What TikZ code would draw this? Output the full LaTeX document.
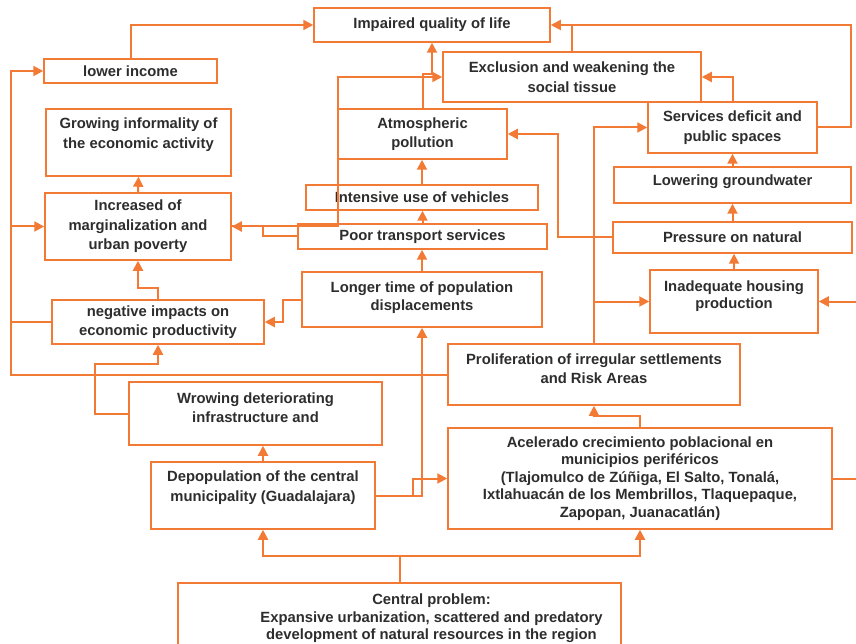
\documentclass[tikz,border=0pt]{standalone}
\usepackage{fontspec}
\setmainfont{Liberation Sans}
\usetikzlibrary{arrows.meta}
\definecolor{edge}{RGB}{242,122,52}
\definecolor{ink}{RGB}{45,45,45}
\newcommand{\lift}[1]{\rule[-#1pt]{0pt}{#1pt}}

\begin{document}
\begin{tikzpicture}[x=1pt, y=-1pt,
    box/.style={draw=edge, line width=1.5pt, align=center, inner sep=0pt, text=ink,
        font=\fontsize{14.8}{19.5}\selectfont\bfseries},
    tight/.style={font=\fontsize{14.8}{17.5}\selectfont\bfseries},
    link/.style={draw=edge, line width=2pt, -{Triangle[length=10pt, width=10pt]}},
    wire/.style={draw=edge, line width=2pt}]
    \useasboundingbox (0,0) rectangle (856,644);
    \clip (0,0) rectangle (856,644);

    % effects
    \node[box, minimum width=236pt, minimum height=34pt] (impaired) at (432,25) {Impaired quality of life};
    \node[box, minimum width=173pt, minimum height=24pt] (income) at (130.5,71) {lower income};
    \node[box, minimum width=185pt, minimum height=67pt] (informal) at (138.5,142.5) {Growing informality of\\the economic activity\lift{19}};
    \node[box, minimum width=258pt, minimum height=50pt] (exclusion) at (572,77) {Exclusion and weakening the\\social tissue};
    \node[box, minimum width=169pt, minimum height=50pt] (atmos) at (422.5,134) {Atmospheric\\pollution};
    \node[box, minimum width=169pt, minimum height=51pt] (services) at (732.5,127.5) {Services deficit and\\public spaces};
    \node[box, minimum width=237pt, minimum height=36pt] (lowering) at (732.5,185) {Lowering groundwater\lift{10}};
    \node[box, minimum width=232pt, minimum height=25pt] (vehicles) at (422,197.5) {Intensive use of vehicles};
    \node[box, minimum width=186pt, minimum height=67pt] (marginal) at (138,226.5) {Increased of\\marginalization and\\urban poverty};
    \node[box, minimum width=239pt, minimum height=31pt] (pressure) at (732.5,237.5) {Pressure on natural};
    \node[box, minimum width=249pt, minimum height=25pt] (transport) at (422.5,236.5) {Poor transport services};
    \node[box, tight, minimum width=240pt, minimum height=55pt] (longer) at (422,299.5) {Longer time of population\\displacements\lift{7}};
    \node[box, tight, minimum width=168pt, minimum height=63pt] (housing) at (734,301.5) {Inadequate housing\\production\lift{14}};
    \node[box, minimum width=212pt, minimum height=44pt] (negative) at (158,322) {negative impacts on\\economic productivity};
    \node[box, minimum width=292pt, minimum height=61pt] (prolif) at (594,374.5) {Proliferation of irregular settlements\\and Risk Areas\lift{12}};
    \node[box, minimum width=253pt, minimum height=63pt] (wrowing) at (255.5,413.5) {Wrowing deteriorating\\infrastructure and\lift{12}};

    % causes
    \node[box, tight, minimum width=384pt, minimum height=101pt] (acel) at (640,478.5) {Acelerado crecimiento poblacional en\\municipios periféricos\\(Tlajomulco de Zúñiga, El Salto, Tonalá,\\Ixtlahuacán de los Membrillos, Tlaquepaque,\\Zapopan, Juanacatlán)};
    \node[box, minimum width=224pt, minimum height=67pt] (depop) at (263,495.5) {Depopulation of the central\\municipality (Guadalajara)\lift{19}};
    \node[box, tight, minimum width=443pt, minimum height=71pt] (central) at (399.5,618.5) {\hspace*{64pt}Central problem:\\\hspace*{64pt}Expansive urbanization, scattered and predatory\\\hspace*{64pt}development of natural resources in the region};

    \coordinate (lbus) at (11,374.5);
    \coordinate (split) at (400,556);

    % left side
    \draw[link] (income.north) |- (impaired.west);
    \draw[link] (prolif.west) -- (lbus) |- (income.west);
    \draw[link] (lbus |- marginal.west) -- (marginal.west);
    \draw[wire] (negative.west) -- (lbus |- negative.west);
    \draw[link] (marginal.north) -- (informal.south);
    \draw[link] (negative.north) -- ++(0,-11) -| (marginal.south);
    \draw[link] (longer.west) -- ++(-18,0) |- (negative.east);
    \draw[link] (wrowing.west) -- ++(-33,0) -- ++(0,-50) -| (negative.south);
    \draw[link] (depop.north) -- (depop.north |- wrowing.south);

    % from the central problem
    \draw[wire] (central.north -| split) -- (split);
    \draw[link] (split) -| (depop.south);
    \draw[link] (split) -| (acel.south);
    \draw[link] (depop.east) -| (longer.south);
    \draw[link] (depop.east) -- ++(37,0) |- (acel.west);
    \draw[link] (acel.north) -- ++(0,-11) -| (prolif.south);
    \draw[link] (acel.east) -- ++(30,0) |- (housing.east);

    % right side
    \draw[link] (prolif.north) |- (services.west);
    \draw[link] (prolif.north |- housing.west) -- (housing.west);
    \draw[link] (housing.north) -- (housing.north |- pressure.south);
    \draw[link] (pressure.north) -- (lowering.south);
    \draw[link] (lowering.north) -- (services.south);
    \draw[link] (pressure.west) -- ++(-54,0) |- (atmos.east);
    \draw[link] (services.north) |- (exclusion.east);
    \draw[link] (services.east) -- ++(33,0) |- (impaired.east);
    \draw[wire] (exclusion.north) -- (exclusion.north |- impaired.east);

    % middle column
    \draw[link] (atmos.north) -- ++(0,-34) -| (impaired.south);
    \draw[link] (transport.west) -- ++(-34,0) |- (marginal.east);
    \draw[link] (marginal.east) -- ++(106,0) |- (exclusion.west);
    \draw[link] (vehicles.north) -- (vehicles.north |- atmos.south);
    \draw[link] (transport.north) -- (transport.north |- vehicles.south);
    \draw[link] (longer.north) -- (longer.north |- transport.south);
\end{tikzpicture}
\end{document}
